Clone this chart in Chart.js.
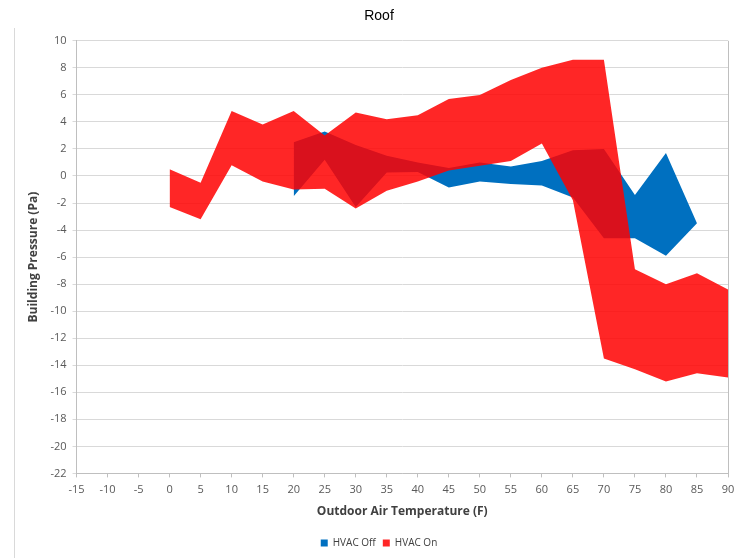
<!DOCTYPE html>
<html>
<head>
<meta charset="utf-8">
<script src="https://cdn.jsdelivr.net/npm/chart.js@4.4.1/dist/chart.umd.min.js"></script>
<style>
  body { margin: 0; background: #fff; }
  #wrap { width: 734px; height: 558px; }
</style>
</head>
<body>
<div id="wrap"><canvas id="roofChart" width="734" height="558"></canvas></div>
<script>
// Outdoor air temperature (F) for each series
const offTemps = [20, 25, 30, 35, 40, 45, 50, 55, 60, 65, 70, 75, 80, 85];
const onTemps = [0, 5, 10, 15, 20, 25, 30, 35, 40, 45, 50, 55, 60, 65, 70, 75, 80, 85, 90];

// Building pressure band (Pa), HVAC off
const offUpper = [2.5, 3.3, 2.3, 1.5, 1.0, 0.6, 1.0, 0.7, 1.1, 1.9, 2.0, -1.4, 1.7, -3.5];
const offLower = [-1.5, 1.2, -2.3, 0.25, 0.3, -0.85, -0.4, -0.6, -0.7, -1.6, -4.6, -4.6, -5.9, -3.5];

// Building pressure band (Pa), HVAC on
const onUpper = [0.5, -0.5, 4.8, 3.8, 4.8, 3.0, 4.7, 4.2, 4.5, 5.7, 6.0, 7.1, 8.0, 8.6, 8.6, -6.9, -8.0, -7.2, -8.4];
const onLower = [-2.3, -3.2, 0.8, -0.4, -1.0, -0.95, -2.4, -1.1, -0.4, 0.4, 0.75, 1.1, 2.4, -1.8, -13.5, -14.3, -15.2, -14.6, -14.9];

const blue = '#0070C0';
const red = 'rgba(255, 0, 0, 0.85)';

function pts(xs, ys) {
    return xs.map((x, i) => ({ x: x, y: ys[i] }));
}

// frame line on the left and the right edge of the plot area
const framePlugin = {
    id: 'frame',
    afterDraw(chart) {
        const ctx = chart.ctx;
        const a = chart.chartArea;
        ctx.save();
        ctx.strokeStyle = '#D9D9D9';
        ctx.lineWidth = 1;
        ctx.beginPath();
        ctx.moveTo(14.5, 28);
        ctx.lineTo(14.5, 558);
        ctx.stroke();
        ctx.strokeStyle = '#BFBFBF';
        ctx.beginPath();
        ctx.moveTo(Math.round(a.right) + 0.5, a.top);
        ctx.lineTo(Math.round(a.right) + 0.5, a.bottom);
        ctx.stroke();
        ctx.restore();
    }
};

// red datasets first so they are drawn on top of the blue band
new Chart(document.getElementById('roofChart'), {
    type: 'line',
    data: {
        datasets: [
            {
                label: 'HVAC On',
                data: pts(onTemps, onUpper),
                backgroundColor: red,
                borderColor: red,
                borderWidth: 0,
                pointRadius: 0,
                fill: '+1',
                tension: 0
            },
            {
                label: 'on-lower',
                data: pts(onTemps, onLower),
                borderWidth: 0,
                pointRadius: 0,
                fill: false
            },
            {
                label: 'HVAC Off',
                data: pts(offTemps, offUpper),
                backgroundColor: blue,
                borderColor: blue,
                borderWidth: 0,
                pointRadius: 0,
                fill: '+1',
                tension: 0
            },
            {
                label: 'off-lower',
                data: pts(offTemps, offLower),
                borderWidth: 0,
                pointRadius: 0,
                fill: false
            }
        ]
    },
    options: {
        responsive: false,
        animation: false,
        layout: { padding: { left: 24, right: 0, top: 0, bottom: 0 } },
        plugins: {
            title: {
                display: true,
                text: 'Roof',
                color: '#000',
                font: { family: 'Liberation Sans', size: 14, weight: 'normal' },
                padding: { top: 8, bottom: 16 }
            },
            legend: {
                position: 'bottom',
                labels: {
                    color: '#404040',
                    font: { family: 'Open Sans', size: 10 },
                    boxWidth: 7,
                    boxHeight: 7,
                    padding: 7,
                    filter: item => item.text.startsWith('HVAC'),
                    sort: (a, b) => (a.text === 'HVAC Off' ? -1 : 1)
                }
            },
            tooltip: { enabled: false }
        },
        scales: {
            x: {
                type: 'linear',
                min: -15,
                max: 90,
                border: { color: '#BFBFBF' },
                grid: { drawOnChartArea: false, tickLength: 4, color: '#BFBFBF' },
                ticks: {
                    stepSize: 5,
                    color: '#595959',
                    font: { family: 'Open Sans', size: 11 },
                    padding: 6,
                    maxRotation: 0
                },
                title: {
                    display: true,
                    text: 'Outdoor Air Temperature (F)',
                    color: '#404040',
                    font: { family: 'Open Sans', size: 12, weight: 'bold' },
                    padding: { top: 2, bottom: 12 }
                },
                afterFit: scale => { scale.paddingRight = 6; }
            },
            y: {
                min: -22,
                max: 10,
                border: { color: '#BFBFBF' },
                grid: { color: '#D9D9D9', tickLength: 4 },
                ticks: {
                    stepSize: 2,
                    color: '#595959',
                    font: { family: 'Open Sans', size: 11 },
                    padding: 6
                },
                title: {
                    display: true,
                    text: 'Building Pressure (Pa)',
                    color: '#404040',
                    font: { family: 'Open Sans', size: 12, weight: 'bold' },
                    padding: { top: 2, bottom: 4 }
                }
            }
        }
    },
    plugins: [framePlugin]
});
</script>
</body>
</html>
